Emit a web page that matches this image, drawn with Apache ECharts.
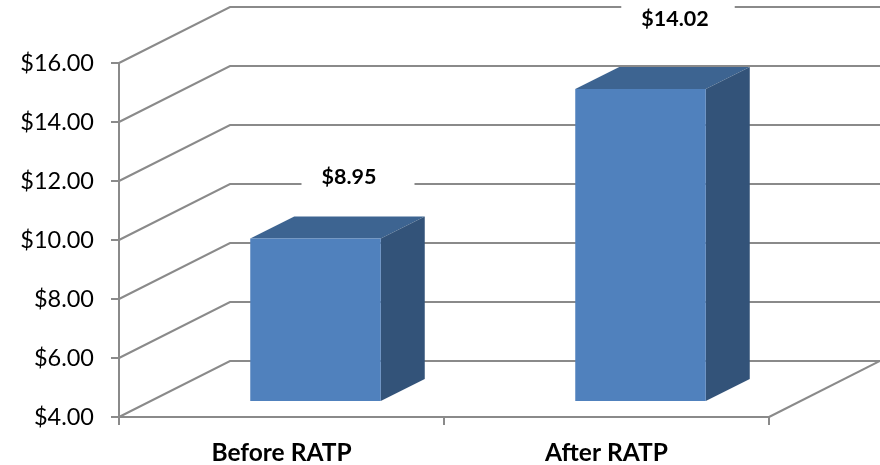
<!DOCTYPE html>
<html>
<head>
<meta charset="utf-8">
<style>html,body{margin:0;padding:0;background:#fff}#c{width:880px;height:465px}</style>
<script src="https://cdn.jsdelivr.net/npm/echarts@6/dist/echarts.min.js"></script>
</head>
<body>
<div id="c"></div>
<script>
const categories = ['Before RATP', 'After RATP'];
const prices = [8.95, 14.02];
const yTicks = [4, 6, 8, 10, 12, 14, 16];

const FONT = 'Lato, "Open Sans", sans-serif';
const GRID_COLOR = '#8A8A8A';
const GRID_W = 2;
const WALL_DX = 111, WALL_DY = -56;
const BAR_DX = 34, BAR_TOP_DY = -32.5, BAR_BASE_DY = -16, BAR_W = 130.5;
const DEPTH_DX = 44, DEPTH_DY = -22;
const LABEL_DX = [76.5, 71.5], LABEL_DY = [-61, -70];
const LABEL_PAD = [[4, 38, 4, 20], [4, 26, 4, 20]];

function renderWall(params, api) {
  const cs = params.coordSys;
  const y = api.coord([0, api.value(1)])[1];
  const x0 = cs.x, x1 = cs.x + WALL_DX, x2 = cs.x + cs.width + WALL_DX;
  const lineStyle = { stroke: GRID_COLOR, lineWidth: GRID_W, fill: null };
  const kids = [{
    type: 'polyline',
    shape: { points: [[x0, y], [x1, y + WALL_DY], [x2, y + WALL_DY]] },
    style: lineStyle
  }];
  if (api.value(1) === yTicks[0]) {
    kids.push({
      type: 'line',
      shape: { x1: cs.x + cs.width, y1: y, x2: x2, y2: y + WALL_DY },
      style: lineStyle
    });
  }
  return { type: 'group', children: kids };
}

function renderBar(params, api) {
  const i = params.dataIndex;
  const top = api.coord([api.value(0), api.value(1)]);
  const base = api.coord([api.value(0), yTicks[0]]);
  const l = top[0] + BAR_DX - BAR_W / 2, r = l + BAR_W;
  const t = top[1] + BAR_TOP_DY, b = base[1] + BAR_BASE_DY;
  return {
    type: 'group',
    children: [
      { type: 'polygon',
        shape: { points: [[l, t], [l + DEPTH_DX, t + DEPTH_DY], [r + DEPTH_DX, t + DEPTH_DY], [r, t]] },
        style: { fill: '#3D6491' } },
      { type: 'polygon',
        shape: { points: [[r, t], [r + DEPTH_DX, t + DEPTH_DY], [r + DEPTH_DX, b + DEPTH_DY], [r, b]] },
        style: { fill: '#335379' } },
      { type: 'rect',
        shape: { x: l, y: t, width: BAR_W, height: b - t },
        style: { fill: '#5081BD' } },
      { type: 'text',
        x: top[0] + LABEL_DX[i], y: t + LABEL_DY[i],
        style: {
          text: '$' + api.value(1).toFixed(2),
          font: 'bold 21.5px ' + FONT,
          fill: '#000',
          align: 'center', verticalAlign: 'middle',
          backgroundColor: '#fff',
          padding: LABEL_PAD[i]
        } }
    ]
  };
}

const chart = echarts.init(document.getElementById('c'), null, { renderer: 'canvas' });
chart.setOption({
  animation: false,
  backgroundColor: '#fff',
  grid: { left: 119, right: 111, top: 63, bottom: 48, outerBoundsMode: 'none' },
  xAxis: {
    type: 'category',
    data: categories,
    axisLine: { lineStyle: { color: GRID_COLOR, width: GRID_W } },
    axisTick: { show: true, alignWithLabel: false, length: 8, lineStyle: { color: GRID_COLOR, width: GRID_W } },
    axisLabel: { color: '#000', fontFamily: FONT, fontWeight: 'bold', fontSize: 24.5, margin: 24 }
  },
  yAxis: {
    type: 'value',
    min: 4, max: 16, interval: 2,
    splitLine: { show: false },
    axisLine: { show: true, lineStyle: { color: GRID_COLOR, width: GRID_W } },
    axisTick: { show: true, length: 8, lineStyle: { color: GRID_COLOR, width: GRID_W } },
    axisLabel: { color: '#000', fontFamily: FONT, fontSize: 23.5, margin: 25, padding: [3, 0, 0, 0], formatter: v => '$' + v.toFixed(2) }
  },
  series: [
    { type: 'custom', z: 1, silent: true, renderItem: renderWall,
      data: yTicks.map(v => [0, v]), encode: { x: 0, y: 1 } },
    { type: 'custom', z: 2, silent: true, renderItem: renderBar,
      data: prices.map((v, i) => [i, v]), encode: { x: 0, y: 1 } }
  ]
});
</script>
</body>
</html>
